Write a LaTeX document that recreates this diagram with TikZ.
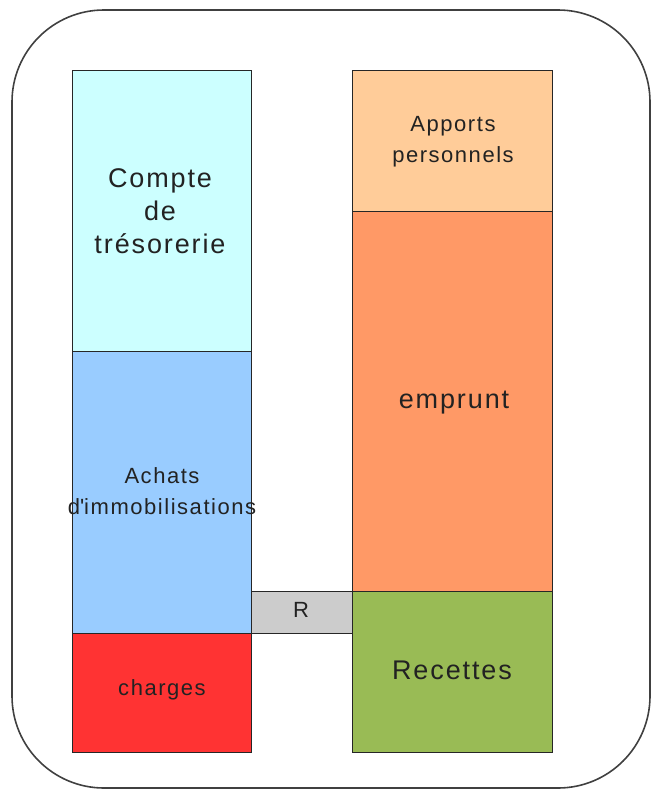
\documentclass[tikz,border=0pt]{standalone}
\usepackage{fontspec}
\setmainfont{Liberation Sans}
\newfontfamily\spaced[LetterSpace=7]{Liberation Sans}
\definecolor{cCompte}{HTML}{CCFFFF}
\definecolor{cAchats}{HTML}{99CCFF}
\definecolor{cCharges}{HTML}{FF3333}
\definecolor{cApports}{HTML}{FFCC99}
\definecolor{cEmprunt}{HTML}{FF9966}
\definecolor{cRecettes}{HTML}{99BB55}
\definecolor{cR}{HTML}{CCCCCC}
\definecolor{cText}{HTML}{222222}
\begin{document}
\begin{tikzpicture}[x=1pt,y=-1pt,
  blk/.style={draw=black!85, line width=1pt},
  big/.style={font=\spaced\fontsize{27}{33}\selectfont, text=cText, align=center},
  small/.style={font=\spaced\fontsize{22}{31}\selectfont, text=cText, align=center}]
\useasboundingbox (0,0) rectangle (652,790);
\draw[line width=1.6pt, draw=black!75, rounded corners=92pt] (12,10) rectangle (650,788);
% left column
\filldraw[blk, fill=cCompte] (72,70) rectangle (251,351);
\filldraw[blk, fill=cAchats] (72,351) rectangle (251,633);
\filldraw[blk, fill=cCharges] (72,633) rectangle (251,752);
% right column
\filldraw[blk, fill=cApports] (352,70) rectangle (552,211);
\filldraw[blk, fill=cEmprunt] (352,211) rectangle (552,591);
\filldraw[blk, fill=cRecettes] (352,591) rectangle (552,752);
% R
\filldraw[blk, fill=cR] (251,591) rectangle (352,633);
% labels
\node[big] (compte) at (160,211) {Compte\\de\\trésorerie};
\node[small] (achats) at (162,491) {Achats\\d\textquotesingle immobilisations};
\node[small] (charges) at (162,690) {charges};
\node[small] (apports) at (453,142) {Apports\\personnels};
\node[big] (emprunt) at (454,403) {emprunt};
\node[big] (recettes) at (452,670) {Recettes};
\node[small] (r) at (301,610) {R};
\end{tikzpicture}
\end{document}
